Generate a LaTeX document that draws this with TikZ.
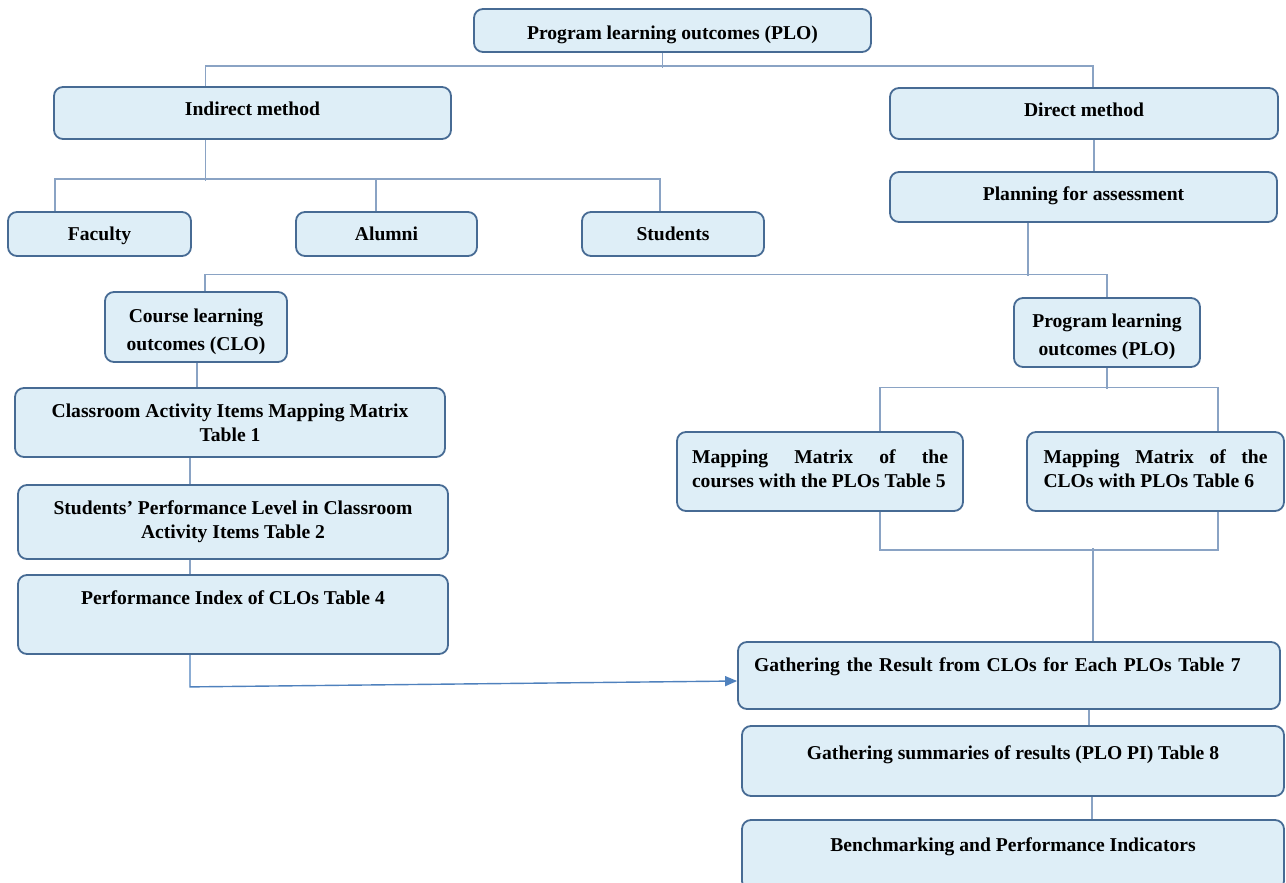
\documentclass[tikz,border=0pt]{standalone}
\usepackage{fontspec}
\setmainfont{Liberation Serif}
\usetikzlibrary{arrows.meta}
\definecolor{boxfill}{RGB}{222,238,247}
\definecolor{boxline}{RGB}{71,107,148}
\definecolor{linkline}{RGB}{138,163,196}
\definecolor{arrowline}{RGB}{79,129,189}

\begin{document}
\begin{tikzpicture}[x=0.5pt,y=-0.5pt,
        stage/.style={draw=boxline,line width=0.9pt,fill=boxfill,rounded corners=4.5pt,
            font=\bfseries\fontsize{9.8}{12}\selectfont,align=center,inner sep=0pt},
        toptext/.style={text height=7pt,text depth=#1},
        toptext/.default=2.6pt,
        link/.style={draw=linkline,line width=0.6pt},
        flow/.style={draw=arrowline,line width=0.7pt,-{Triangle[length=6pt,width=5pt]}}]
        \useasboundingbox (0,0) rectangle (1286,883);

        \node[stage,text height=10.5pt,text depth=1.4pt,minimum width=198.5pt,minimum height=21.5pt] (plo) at (672.5,30.5) {Program learning outcomes (PLO)};
        \node[stage,toptext=4.4pt,minimum width=198.5pt,minimum height=26pt] (indirect) at (252.5,113) {Indirect method};
        \node[stage,toptext=3.9pt,minimum width=194pt,minimum height=25.5pt] (direct) at (1084,113.5) {Direct method};
        \node[stage,toptext=3.4pt,minimum width=193.5pt,minimum height=25pt] (planning) at (1083.5,197) {Planning for assessment};
        \node[stage,toptext=0.6pt,minimum width=91.5pt,minimum height=22pt] (faculty) at (99.5,234) {Faculty};
        \node[stage,toptext=0.6pt,minimum width=90.5pt,minimum height=22pt] (alumni) at (386.5,234) {Alumni};
        \node[stage,toptext=0.8pt,minimum width=91pt,minimum height=22pt] (students) at (673,234) {Students};
        \node[stage,text height=25.4pt,minimum width=91pt,minimum height=35pt] (clo) at (196,327) {Course learning\\[2pt]outcomes (CLO)};
        \node[stage,text height=24.9pt,minimum width=93pt,minimum height=34.5pt] (plo2) at (1107,332.5) {Program learning\\[2pt]outcomes (PLO)};
        \node[stage,minimum width=215pt,minimum height=34.5pt] (classroom) at (230,422.5) {Classroom Activity Items Mapping Matrix\\Table 1};
        \node[stage,minimum width=215pt,minimum height=37pt] (perflevel) at (233,522) {Students' Performance Level in Classroom\\Activity Items Table 2};
        \node[stage,toptext=17pt,minimum width=215pt,minimum height=39.5pt] (perfindex) at (233,614.5) {Performance Index of CLOs Table 4};
        \node[stage,align=justify,text width=128pt,text depth=15pt,minimum width=143pt,minimum height=39.5pt] (mapcourse) at (820,471.5) {Mapping Matrix of the\linebreak courses with the PLOs Table 5};
        \node[stage,align=justify,text width=112pt,text depth=15pt,minimum width=128.5pt,minimum height=39.5pt] (mapclo) at (1155.5,471.5) {Mapping Matrix of the\linebreak CLOs with PLOs Table 6};
        \node[stage,align=left,text width=255pt,toptext=11pt,minimum width=271pt,minimum height=33.5pt] (gather) at (1009,675.5) {Gathering the Result from CLOs for Each PLOs Table 7};
        \node[stage,toptext=8.4pt,minimum width=271pt,minimum height=35pt] (summary) at (1013,761) {Gathering summaries of results (PLO PI) Table 8};
        \node[stage,toptext=10.4pt,minimum width=271pt,minimum height=35pt] (bench) at (1013,855) {Benchmarking and Performance Indicators};

        \draw[link] ([xshift=-5pt]plo.south) -- ++(0,15);
        \draw[link] ([xshift=-23.5pt]indirect.north) -- ++(0,-20) -| ([xshift=4.5pt]direct.north);
        \draw[link] ([xshift=5pt]direct.south) -- ([xshift=5.25pt]planning.north);

        \draw[link] ([xshift=-23.5pt]indirect.south) -- ++(0,41);
        \draw[link] ([xshift=-22.25pt]faculty.north) -- ++(0,-32) -| ([xshift=-6.5pt]students.north);
        \draw[link] ([xshift=-5.25pt]alumni.north) -- ++(0,-32);

        \draw[link] ([xshift=-27.75pt]planning.south) -- ++(0,53);
        \draw[link] ([xshift=4.5pt]clo.north) -- ++(0,-17) -| (plo2.north);

        \draw[link] ([xshift=0.5pt]clo.south) -- ([xshift=-16.5pt]classroom.north);
        \draw[link] ([xshift=-20pt]classroom.south) -- ([xshift=-21.5pt]perflevel.north);
        \draw[link] ([xshift=-21.5pt]perflevel.south) -- ([xshift=-21.5pt]perfindex.north);
        \draw[flow] ([xshift=-21.5pt]perfindex.south) -- ++(0,32) -- ([yshift=-2.75pt]gather.west);

        \draw[link] (plo2.south) -- ++(0,21);
        \draw[link] ([xshift=30pt]mapcourse.north) -- ++(0,-44) -| ([xshift=31.25pt]mapclo.north);
        \draw[link] ([xshift=30pt]mapcourse.south) -- ++(0,38) -| ([xshift=31.25pt]mapclo.south);
        \draw[link] ([xshift=42pt]gather.north) -- ++(0,-93);
        \draw[link] ([xshift=40pt]gather.south) -- ([xshift=38pt]summary.north);
        \draw[link] ([xshift=39.5pt]summary.south) -- ([xshift=39.5pt]bench.north);
    \end{tikzpicture}
\end{document}
